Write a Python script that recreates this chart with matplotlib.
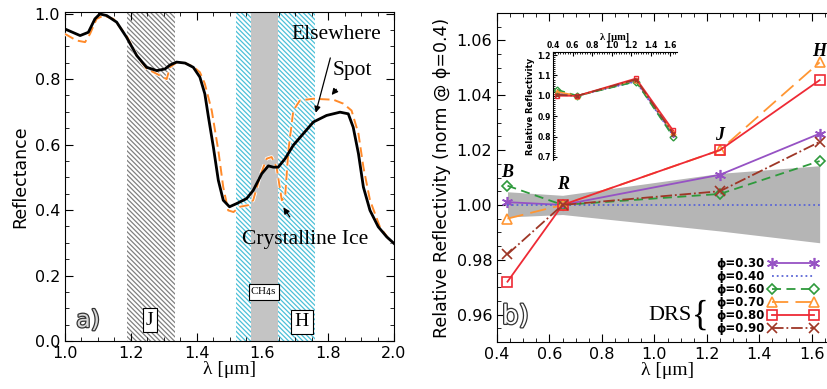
import numpy as np
import matplotlib.pyplot as plt
import matplotlib.patheffects as pe
from matplotlib.ticker import MultipleLocator, FormatStrFormatter

# ---- panel a) spectra ----
wave_else = [1.0, 1.046, 1.071, 1.091, 1.106, 1.127, 1.157, 1.187, 1.218, 1.248, 1.279,
             1.304, 1.319, 1.339, 1.365, 1.39, 1.41, 1.425, 1.436, 1.451, 1.466, 1.481,
             1.50, 1.522, 1.552, 1.572, 1.598, 1.618, 1.633, 1.648, 1.669, 1.694, 1.724,
             1.755, 1.795, 1.836, 1.861, 1.876, 1.892, 1.907, 1.927, 1.952, 1.978, 2.0]
refl_else = [0.953, 0.933, 0.943, 0.984, 0.999, 0.994, 0.974, 0.928, 0.872, 0.836, 0.826,
             0.831, 0.843, 0.852, 0.849, 0.836, 0.806, 0.755, 0.684, 0.592, 0.491, 0.43,
             0.41, 0.42, 0.435, 0.46, 0.511, 0.535, 0.531, 0.531, 0.557, 0.598, 0.633,
             0.669, 0.689, 0.699, 0.694, 0.653, 0.572, 0.47, 0.399, 0.349, 0.318, 0.298]

wave_spot = [1.0, 1.035, 1.061, 1.076, 1.096, 1.117, 1.147, 1.187, 1.218, 1.248, 1.279,
             1.309, 1.319, 1.339, 1.365, 1.39, 1.41, 1.425, 1.446, 1.466, 1.481, 1.496,
             1.512, 1.532, 1.557, 1.572, 1.593, 1.613, 1.628, 1.643, 1.659, 1.669, 1.679,
             1.694, 1.714, 1.755, 1.816, 1.846, 1.871, 1.892, 1.907, 1.927, 1.957, 1.983, 2.0]
refl_spot = [0.938, 0.918, 0.913, 0.938, 0.984, 0.994, 0.984, 0.933, 0.872, 0.832, 0.816,
             0.80, 0.836, 0.851, 0.849, 0.838, 0.821, 0.786, 0.704, 0.582, 0.47, 0.399,
             0.394, 0.41, 0.415, 0.43, 0.504, 0.557, 0.562, 0.531, 0.43, 0.44, 0.582,
             0.704, 0.735, 0.74, 0.737, 0.725, 0.704, 0.633, 0.531, 0.43, 0.349, 0.313, 0.298]

# ---- panel b) relative reflectivity ----
band_wave = [0.44, 0.65, 1.25, 1.63]
band_names = ['B', 'R', 'J', 'H']
phase_labels = ['0.30', '0.40', '0.60', '0.70', '0.80', '0.90']
rel_030 = [1.001, 1.000, 1.011, 1.026]
rel_040 = [1.000, 1.000, 1.000, 1.000]
rel_060 = [1.007, 1.000, 1.004, 1.016]
rel_070 = [0.995, 1.000, 1.020, 1.052]
rel_080 = [0.972, 1.000, 1.020, 1.0455]
rel_090 = [0.982, 1.000, 1.005, 1.023]
drs_upper = [1.0048, 1.0035, 1.0115, 1.0143]
drs_lower = [0.9956, 0.9965, 0.9905, 0.9862]

# inset, normalised at R
ins_030 = [1.01, 1.00, 1.075, 0.81]
ins_040 = [1.01, 1.00, 1.07, 0.805]
ins_060 = [1.03, 1.00, 1.07, 0.80]
ins_070 = [1.02, 1.00, 1.08, 0.82]
ins_080 = [1.00, 1.00, 1.085, 0.83]
ins_090 = [1.005, 1.00, 1.08, 0.815]

colors = ['#9652c4', '#5b66d6', '#2e9a3c', '#ff9633', '#ee2a35', '#9e3626']
styles = ['-', ':', (0, (5, 3)), (0, (9, 4)), '-', '-.']
markers = [(6, 2, 0), None, 'D', '^', 's', 'x']
msizes = [8, 0, 5, 7, 7, 6.5]

serif = 'Liberation Serif'
plt.rcParams['hatch.linewidth'] = 0.9

fig = plt.figure(figsize=(8.27, 3.89), dpi=100)

# ---------------- left panel ----------------
ax1 = fig.add_axes([65 / 827, 48 / 389, 329 / 827, 329 / 389])
ax1.axvspan(1.187, 1.334, facecolor='none', edgecolor='#808080', hatch='\\' * 7, linewidth=0, zorder=1)
ax1.axvspan(1.52, 1.76, facecolor='none', edgecolor='#4cc0d8', hatch='\\' * 7, linewidth=0, zorder=1)
ax1.axvspan(1.564, 1.646, facecolor='#c4c4c4', edgecolor='none', zorder=2)

ax1.plot(wave_spot, refl_spot, color='#ff8a2a', lw=1.4, ls=(0, (5, 2.5)), zorder=3,
         path_effects=[pe.withStroke(linewidth=2.6, foreground='white')])
ax1.plot(wave_else, refl_else, color='black', lw=2.0, zorder=4)

ax1.set_xlim(1.0, 2.0)
ax1.set_ylim(0.0, 1.005)
ax1.xaxis.set_major_locator(MultipleLocator(0.2))
ax1.xaxis.set_minor_locator(MultipleLocator(0.05))
ax1.yaxis.set_major_locator(MultipleLocator(0.2))
ax1.yaxis.set_minor_locator(MultipleLocator(0.05))
ax1.xaxis.set_major_formatter(FormatStrFormatter('%.1f'))
ax1.yaxis.set_major_formatter(FormatStrFormatter('%.1f'))
ax1.tick_params(which='both', direction='in', top=True, right=True, labelsize=11.5)
ax1.tick_params(which='major', length=6)
ax1.tick_params(which='minor', length=3)
ax1.set_xlabel('λ [μm]', family=serif, fontsize=14, labelpad=0)
ax1.set_ylabel('Reflectance', fontsize=12.5, labelpad=4)

ax1.text(1.258, 0.064, 'J', family=serif, fontsize=14, ha='center', va='center', zorder=6,
         bbox=dict(facecolor='white', edgecolor='black', boxstyle='square,pad=0.18', lw=0.8))
ax1.text(1.72, 0.059, 'H', family=serif, fontsize=14, ha='center', va='center', zorder=6,
         bbox=dict(facecolor='white', edgecolor='black', boxstyle='square,pad=0.18', lw=0.8))
ax1.text(1.604, 0.15, r'CH$_4$s', family=serif, fontsize=8, ha='center', va='center', zorder=6,
         bbox=dict(facecolor='white', edgecolor='black', boxstyle='square,pad=0.15', lw=0.8))
ax1.text(1.07, 0.064, 'a)', fontsize=17, ha='center', va='center', color='#d8d8d8', zorder=6,
         path_effects=[pe.withStroke(linewidth=1.8, foreground='#333333')])

ax1.annotate('Elsewhere', xy=(1.76, 0.689), xytext=(1.825, 0.935), family=serif, fontsize=15.5,
             ha='center', va='center', zorder=7,
             arrowprops=dict(arrowstyle='-|>', color='black', lw=0.9, shrinkA=8, mutation_scale=9))
ax1.annotate('Spot', xy=(1.805, 0.745), xytext=(1.872, 0.826), family=serif, fontsize=15.5,
             ha='center', va='center', zorder=7,
             arrowprops=dict(arrowstyle='-|>', color='black', lw=0.9, shrinkA=6, mutation_scale=9))
ax1.annotate('Crystalline Ice', xy=(1.659, 0.415), xytext=(1.73, 0.31), family=serif, fontsize=15.5,
             ha='center', va='center', zorder=7,
             arrowprops=dict(arrowstyle='-|>', color='black', lw=0.9, shrinkA=9, mutation_scale=9))

# ---------------- right panel ----------------
ax2 = fig.add_axes([497 / 827, 47 / 389, 341 / 827, 329 / 389])
ax2.fill_between(band_wave, drs_lower, drs_upper, color='#b5b5b5', lw=0, zorder=1)

series = [rel_030, rel_040, rel_060, rel_070, rel_080, rel_090]
handles = []
for vals, lab, c, ls, mk, ms in zip(series, phase_labels, colors, styles, markers, msizes):
    h, = ax2.plot(band_wave, vals, color=c, ls=ls, lw=1.3, marker=mk, ms=ms,
                  mfc='none', mec=c, mew=1.2, label='ϕ=' + lab, zorder=3)
    handles.append(h)

ax2.set_xlim(0.4, 1.7)
ax2.set_ylim(0.95, 1.07)
ax2.set_xticks([0.4, 0.6, 0.8, 1.0, 1.2, 1.4, 1.6])
ax2.xaxis.set_minor_locator(MultipleLocator(0.05))
ax2.yaxis.set_major_locator(MultipleLocator(0.02))
ax2.yaxis.set_minor_locator(MultipleLocator(0.005))
ax2.xaxis.set_major_formatter(FormatStrFormatter('%.1f'))
ax2.yaxis.set_major_formatter(FormatStrFormatter('%.2f'))
ax2.tick_params(which='both', direction='in', top=True, right=True, labelsize=11.5)
ax2.tick_params(which='major', length=6)
ax2.tick_params(which='minor', length=3)
ax2.set_xlabel('λ [μm]', family=serif, fontsize=14, labelpad=0)
ax2.set_ylabel('Relative Reflectivity (norm @ ϕ=0.4)', fontsize=12.5, labelpad=4)

name_y = [1.012, 1.0075, 1.0255, 1.056]
for x, y, n in zip(band_wave, name_y, band_names):
    ax2.text(x, y, n, family=serif, style='italic', weight='bold', fontsize=13,
             ha='center', va='center', zorder=5)

ax2.text(0.47, 0.9592, 'b)', fontsize=19, ha='center', va='center', color='white', zorder=6,
         path_effects=[pe.withStroke(linewidth=1.8, foreground='#333333')])
ax2.text(1.058, 0.9597, 'DRS', family=serif, fontsize=16, ha='center', va='center')
ax2.text(1.175, 0.9595, '{', family=serif, fontsize=25, ha='center', va='center')

ax2.legend(handles=handles, loc='lower right', bbox_to_anchor=(0.941, 0.022), frameon=False,
           markerfirst=False, numpoints=2, handlelength=4.2, handletextpad=0.3,
           labelspacing=0.0, borderpad=0, borderaxespad=0,
           prop=dict(size=8.5, weight='bold'))

# ---------------- inset ----------------
ax3 = fig.add_axes([553 / 827, 229 / 389, 124 / 827, 108 / 389])
ax3.patch.set_alpha(0)
inset_series = [ins_030, ins_040, ins_060, ins_070, ins_080, ins_090]
for vals, c, ls, mk in zip(inset_series, colors, styles, markers):
    ax3.plot(band_wave, vals, color=c, ls=ls, lw=1.2, marker=mk, ms=3.5,
             mfc='none', mec=c, mew=1.0)
ax3.set_xlim(0.4, 1.67)
ax3.set_ylim(0.685, 1.215)
ax3.set_xticks([0.4, 0.6, 0.8, 1.0, 1.2, 1.4, 1.6])
ax3.xaxis.set_minor_locator(MultipleLocator(0.025))
ax3.yaxis.set_major_locator(MultipleLocator(0.1))
ax3.yaxis.set_minor_locator(MultipleLocator(0.01))
ax3.xaxis.set_major_formatter(FormatStrFormatter('%.1f'))
ax3.yaxis.set_major_formatter(FormatStrFormatter('%.1f'))
ax3.spines['right'].set_visible(False)
ax3.spines['bottom'].set_visible(False)
ax3.tick_params(which='both', direction='in', top=True, bottom=False, labeltop=True,
                labelbottom=False, right=False, labelsize=5.5, pad=1.5)
ax3.tick_params(which='major', length=3)
ax3.tick_params(which='minor', length=1.5)
for t in ax3.get_xticklabels() + ax3.get_yticklabels():
    t.set_fontweight('bold')
ax3.xaxis.set_label_position('top')
ax3.set_xlabel('λ [μm]', family=serif, fontsize=7.5, weight='bold', labelpad=1)
ax3.set_ylabel('Relative Reflectivity', fontsize=6, weight='bold', labelpad=2)

fig.savefig('out.png', dpi=100)
